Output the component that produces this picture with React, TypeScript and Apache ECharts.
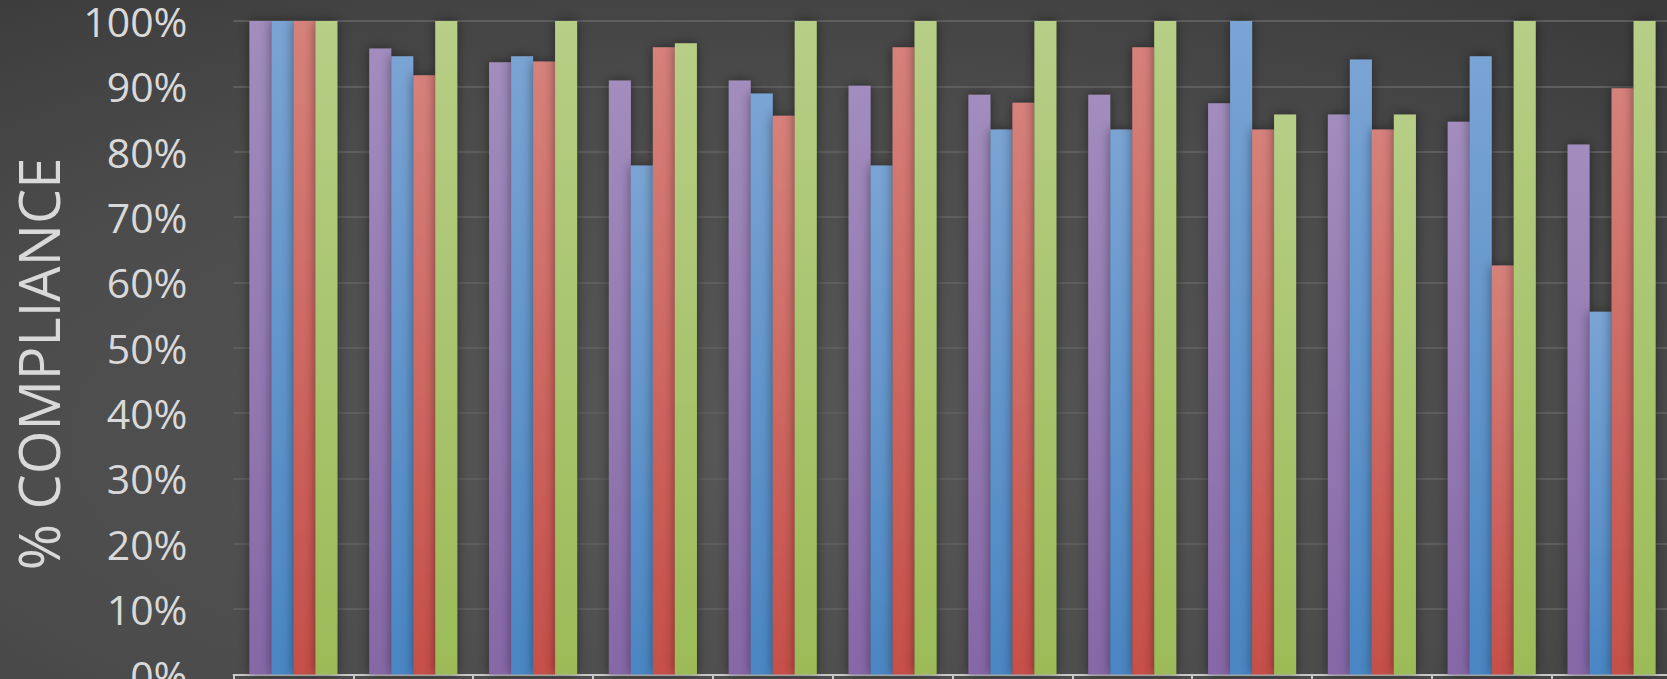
import React, { useEffect, useRef } from "react";
import * as echarts from "echarts";

// Categories (their labels sit below the visible area of the chart)
const categories = [
  "Site 1", "Site 2", "Site 3", "Site 4", "Site 5", "Site 6",
  "Site 7", "Site 8", "Site 9", "Site 10", "Site 11", "Site 12",
];

const seriesNames = ["Series A", "Series B", "Series C", "Series D"];

// % compliance per category
const purpleValues = [100, 95.8, 93.7, 90.9, 90.9, 90.1, 88.7, 88.7, 87.4, 85.7, 84.6, 81.1];
const blueValues = [100, 94.6, 94.6, 77.9, 88.9, 77.9, 83.4, 83.4, 100, 94.1, 94.6, 55.5];
const redValues = [100, 91.7, 93.8, 96.0, 85.5, 96.0, 87.5, 96.0, 83.4, 83.4, 62.6, 89.7];
const greenValues = [100, 100, 100, 96.6, 100, 100, 100, 100, 85.7, 85.7, 100, 100];

const yTicks = { min: 0, max: 100, interval: 10 };

const palette = [
  { top: "#a28dbe", bottom: "#8667a7" },
  { top: "#7aa4d4", bottom: "#4a86c3" },
  { top: "#d6817b", bottom: "#c64f49" },
  { top: "#b6ce86", bottom: "#9cbb58" },
];

export default function App() {
  const ref = useRef<HTMLDivElement>(null);

  useEffect(() => {
    if (!ref.current) return;
    const chart = echarts.init(ref.current, null, { renderer: "svg" });
    const values = [purpleValues, blueValues, redValues, greenValues];

    chart.setOption({
      animation: false,
      backgroundColor: new echarts.graphic.RadialGradient(0.45, 0.65, 0.85, [
        { offset: 0, color: "#575757" },
        { offset: 0.6, color: "#4b4b4b" },
        { offset: 1, color: "#3a3a3a" },
      ]),
      grid: {
        left: 233.5,
        top: 21,
        width: 1438,
        height: 653.5,
        containLabel: false,
        outerBoundsMode: "none",
      },
      graphic: [
        {
          type: "text",
          x: 38,
          y: 364,
          rotation: Math.PI / 2,
          style: {
            text: "% COMPLIANCE",
            fontFamily: "Open Sans",
            fontSize: 56,
            fill: "#d9d9d9",
            textAlign: "center",
            textVerticalAlign: "middle",
          },
        },
      ],
      xAxis: {
        type: "category",
        data: categories,
        boundaryGap: true,
        axisLine: { show: true, lineStyle: { color: "#c8c8c8", width: 2 } },
        axisTick: { show: true, alignWithLabel: false, length: 12, lineStyle: { color: "#c8c8c8", width: 2 } },
        axisLabel: { show: false },
        splitLine: { show: false },
      },
      yAxis: {
        type: "value",
        min: yTicks.min,
        max: yTicks.max,
        interval: yTicks.interval,
        axisLine: { show: false },
        axisTick: { show: false },
        axisLabel: {
          formatter: "{value}%",
          color: "#d9d9d9",
          fontFamily: "Open Sans",
          fontSize: 41,
          margin: 46,
        },
        splitLine: { show: true, lineStyle: { color: "#5e5e5e", width: 2 } },
      },
      series: values.map((data, i) => ({
        name: seriesNames[i],
        type: "bar",
        data,
        barWidth: 22,
        barGap: "0%",
        itemStyle: {
          color: new echarts.graphic.LinearGradient(0, 0, 0, 1, [
            { offset: 0, color: palette[i].top },
            { offset: 1, color: palette[i].bottom },
          ]),
          shadowBlur: 12,
          shadowColor: "rgba(0,0,0,0.45)",
        },
      })),
    });

    return () => chart.dispose();
  }, []);

  return (
    <div
      ref={ref}
      style={{ position: "absolute", left: 0, top: 0, width: 1667, height: 679, overflow: "hidden" }}
    />
  );
}
